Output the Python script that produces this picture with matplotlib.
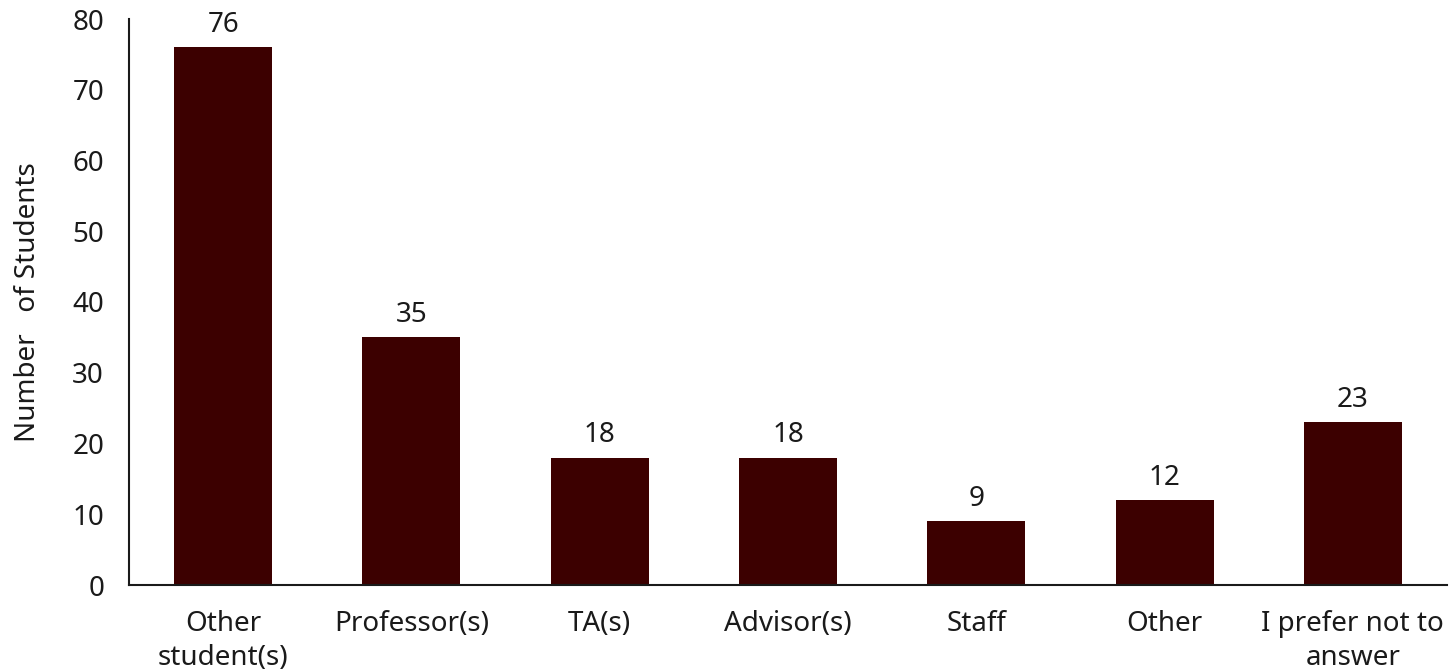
import numpy as np
import matplotlib.pyplot as plt

categories = ["Other\nstudent(s)", "Professor(s)", "TA(s)", "Advisor(s)",
              "Staff", "Other", "I prefer not to\nanswer"]
counts = [76, 35, 18, 18, 9, 12, 23]

plt.rcParams['font.family'] = ['Noto Sans', 'DejaVu Sans']
fs = 20
ink = '#1a1a1a'

fig = plt.figure(figsize=(14.49, 6.72), dpi=100)
ax = fig.add_axes([129 / 1449, 87 / 672, (1447 - 129) / 1449, (585 - 19) / 672])

x = np.arange(len(categories))
bars = ax.bar(x, counts, width=0.52, color='#3c0000')

for xi, v in zip(x, counts):
    ax.text(xi, v + 1.2, str(v), ha='center', va='bottom', fontsize=fs, color=ink)

ax.set_xlim(-0.5, len(categories) - 0.5)
ax.set_ylim(0, 80)
ax.set_yticks(range(0, 81, 10))
ax.set_xticks(x)
ax.set_xticklabels(categories, fontsize=fs, color=ink, linespacing=1.3)
ax.tick_params(axis='both', length=0, labelsize=fs, labelcolor=ink)
ax.tick_params(axis='x', pad=18)
ax.tick_params(axis='y', pad=18)

for s in ['top', 'right']:
    ax.spines[s].set_visible(False)
for s in ['left', 'bottom']:
    ax.spines[s].set_color(ink)
    ax.spines[s].set_linewidth(1.5)

ax.set_ylabel("Number   of Students", fontsize=fs, color=ink, labelpad=22)

fig.savefig('out.png', dpi=100)
